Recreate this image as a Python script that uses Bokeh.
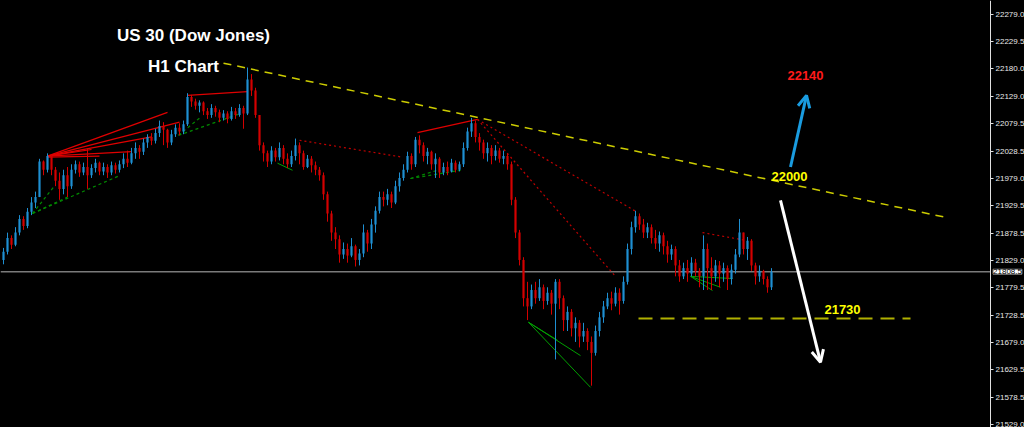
from bokeh.plotting import figure
from bokeh.models import (Range1d, LinearAxis, FixedTicker, PrintfTickFormatter,
                          Label, Arrow, OpenHead, ColumnDataSource)
from bokeh.embed import file_html
from bokeh.resources import INLINE

# ---------------- data (H1 candles, US30) ----------------
first_open = 21830
closes = [
    21845, 21870, 21858, 21880, 21905, 21892, 21918, 21935, 21945, 22010,
    21995, 22020, 21995, 21975, 21960, 21985, 21965, 21995, 22005, 21990,
    22000, 21985, 21998, 22008, 21992, 22000, 21990, 22003, 21995, 22005,
    22015, 22008, 22025, 22035, 22028, 22045, 22055, 22048, 22062, 22075,
    22068, 22045, 22060, 22072, 22065, 22078, 22128, 22120, 22112, 22118,
    22102, 22095, 22108, 22100, 22090, 22098, 22088, 22102, 22095, 22108,
    22098, 22160, 22140, 22095, 22040, 22025, 22010, 22030, 22018, 22035,
    22015, 22005, 22020, 22040, 22025, 22000, 22015, 22003, 21995, 21985,
    21950, 21915, 21880, 21868, 21840, 21850, 21838, 21855, 21830, 21842,
    21880, 21860, 21895, 21920, 21945, 21940, 21950, 21935, 21965, 21980,
    21995, 22020, 22005, 22050, 22040, 22020, 22028, 22005, 22015, 21990,
    22000, 21992, 22008, 21995, 22005, 22035, 22065, 22080, 22055, 22045,
    22025, 22035, 22020, 22030, 22015, 22020, 22005, 21940, 21880, 21830,
    21760, 21745, 21775, 21760, 21780, 21755, 21770, 21750, 21790, 21760,
    21720, 21735, 21705, 21715, 21690, 21700, 21680, 21660, 21700, 21725,
    21745, 21760, 21750, 21770, 21755, 21790, 21850, 21890, 21910, 21895,
    21880, 21890, 21870, 21860, 21875, 21855, 21840, 21850, 21820, 21800,
    21815, 21805, 21825, 21810, 21800, 21850, 21815, 21800, 21820, 21805,
    21815, 21795, 21812, 21840, 21880, 21850, 21865, 21820, 21800, 21810,
    21795, 21780, 21808.5,
]
highs = [
    21852, 21880, 21875, 21890, 21912, 21910, 21925, 21945, 21955, 22015,
    22012, 22025, 22022, 22000, 21990, 21995, 22000, 22005, 22012, 22010,
    22008, 22034, 22005, 22015, 22010, 22008, 22005, 22010, 22008, 22012,
    22025, 22030, 22035, 22045, 22040, 22052, 22060, 22062, 22070, 22085,
    22082, 22070, 22068, 22078, 22080, 22085, 22135, 22132, 22125, 22122,
    22120, 22108, 22115, 22112, 22105, 22104, 22102, 22110, 22108, 22115,
    22112, 22182, 22170, 22145, 22095, 22045, 22030, 22038, 22035, 22045,
    22040, 22025, 22030, 22052, 22045, 22030, 22022, 22020, 22010, 22000,
    21990, 21955, 21920, 21890, 21875, 21862, 21860, 21870, 21858, 21850,
    21895, 21885, 21905, 21928, 21955, 21955, 21960, 21955, 21975, 21990,
    22005, 22028, 22025, 22055, 22058, 22045, 22035, 22030, 22025, 22018,
    22008, 22010, 22015, 22012, 22010, 22045, 22072, 22090, 22085, 22062,
    22050, 22045, 22040, 22040, 22035, 22030, 22025, 22010, 21945, 21885,
    21835, 21790, 21785, 21790, 21795, 21785, 21780, 21775, 21795, 21795,
    21765, 21745, 21740, 21725, 21720, 21715, 21705, 21690, 21710, 21735,
    21755, 21770, 21772, 21780, 21778, 21800, 21860, 21900, 21920, 21915,
    21905, 21898, 21895, 21885, 21882, 21880, 21865, 21858, 21855, 21830,
    21825, 21830, 21835, 21832, 21815, 21875, 21860, 21835, 21830, 21828,
    21825, 21820, 21822, 21850, 21905, 21880, 21872, 21868, 21825, 21820,
    21812, 21800, 21815,
]
lows = [
    21822, 21840, 21850, 21855, 21875, 21885, 21888, 21912, 21925, 21945,
    21985, 21990, 21985, 21965, 21940, 21950, 21945, 21960, 21988, 21982,
    21985, 21960, 21980, 21990, 21985, 21985, 21980, 21985, 21988, 21990,
    21998, 22000, 22005, 22015, 22015, 22022, 22035, 22040, 22043, 22055,
    22040, 22035, 22040, 22055, 22058, 22060, 22075, 22110, 22105, 22100,
    22095, 22088, 22090, 22092, 22082, 22085, 22080, 22085, 22088, 22092,
    22070, 22095, 22130, 22090, 22030, 22010, 22000, 22005, 22010, 22012,
    22005, 21998, 22000, 22012, 22005, 21995, 21998, 21990, 21985, 21975,
    21940, 21900, 21865, 21850, 21825, 21832, 21825, 21835, 21818, 21820,
    21835, 21845, 21850, 21880, 21915, 21928, 21930, 21925, 21932, 21955,
    21975, 21990, 21995, 22000, 22025, 22010, 22005, 21995, 21980, 21980,
    21985, 21985, 21990, 21990, 21992, 22000, 22030, 22055, 22045, 22030,
    22015, 22010, 22005, 22012, 22008, 22005, 21995, 21930, 21870, 21820,
    21745, 21720, 21740, 21750, 21755, 21740, 21748, 21730, 21648, 21740,
    21700, 21700, 21690, 21680, 21670, 21680, 21665, 21600, 21655, 21690,
    21715, 21740, 21738, 21745, 21730, 21750, 21785, 21840, 21880, 21885,
    21870, 21870, 21860, 21850, 21845, 21840, 21825, 21830, 21800, 21790,
    21795, 21790, 21800, 21800, 21780, 21775, 21775, 21775, 21790, 21780,
    21790, 21775, 21785, 21805, 21835, 21840, 21830, 21810, 21785, 21790,
    21785, 21770, 21775,
]
current_price = 21808.5
price_ticks = [22279.0, 22229.5, 22180.0, 22129.0, 22079.5, 22028.5, 21979.0,
               21929.5, 21878.5, 21829.0, 21779.5, 21728.5, 21679.0, 21629.5,
               21578.5, 21529.0]

# chart area: bar index range shown, and where the price scale sits
x_start, x_end = -0.75, 255.25
price_scale_at = 246.75
price_box_at = 251.0

# drawn objects (bar index, price)
trendline = [(55.0, 22190), (235.5, 21908)]
support_level = [(158.75, 21723), (226.75, 21723)]
red_solid = [
    (11, 22020, 41, 22100), (11, 22020, 44, 22082), (11, 22020, 37, 22055),
    (11, 22020, 32, 22028), (11, 22020, 22, 22032), (11, 22018, 24, 22020),
    (46, 22131, 61, 22138), (103.5, 22063, 118.5, 22087),
]
red_dotted = [
    (74, 22049, 99.75, 22018), (118.5, 22087, 158.5, 21917),
    (118.5, 22087, 153, 21800), (174.75, 21880, 185.5, 21866),
]
green_dashed = [
    (7.25, 21915, 29.25, 21985), (7.25, 21915, 16, 21945), (7.25, 21915, 12.5, 21963),
    (43.75, 22058, 59.25, 22098), (43.75, 22058, 49.25, 22091),
    (101.75, 21979, 114.25, 21994), (101.75, 21979, 108.5, 21994),
]
green_solid = [
    (68.5, 22007, 72.25, 21994), (131.25, 21716, 144.25, 21655),
    (131.25, 21716, 146.75, 21597), (131.25, 21716, 138.5, 21683),
    (171.75, 21800, 182.25, 21796), (171.75, 21800, 179.25, 21780),
    (171.75, 21800, 177.25, 21774),
]
up_arrow = (196.75, 22000, 200.75, 22131)
down_arrow = (194.25, 21939, 204.25, 21643)
title_lines = [("US 30 (Dow Jones)", 47.5, 22241), ("H1 Chart", 45.0, 22184)]
level_labels = [("22140", 200.5, 22168, "#ff1a1a"), ("22000", 196.5, 21983, "#ffff00"),
                ("21730", 209.75, 21740, "#ffff00")]

# ---------------- figure ----------------
UP = "#1e8fd2"
DOWN = "#d40000"

n = len(closes)
idx = list(range(n))
opens = [first_open] + closes[:-1]
hi = [max(h, o, c) for h, o, c in zip(highs, opens, closes)]
lo = [min(l, o, c) for l, o, c in zip(lows, opens, closes)]
colors = [UP if c >= o else DOWN for o, c in zip(opens, closes)]
top = [max(o, c) for o, c in zip(opens, closes)]
bot = [min(o, c) for o, c in zip(opens, closes)]
bot = [b if t - b > 1.5 else t - 1.5 for t, b in zip(top, bot)]

src = ColumnDataSource(dict(x=idx, hi=hi, lo=lo, top=top, bot=bot, color=colors))

p = figure(width=1024, height=427, output_backend="svg", toolbar_location=None,
           x_range=Range1d(x_start, x_end), y_range=Range1d(21523.5, 22304.6),
           background_fill_color="black", border_fill_color="black",
           min_border_left=0, min_border_top=0, min_border_bottom=0, min_border_right=0,
           outline_line_color=None, y_axis_location=None, x_axis_location=None)
p.grid.visible = False

ax = LinearAxis(ticker=FixedTicker(ticks=price_ticks),
                formatter=PrintfTickFormatter(format="%.1f"),
                fixed_location=price_scale_at)
ax.axis_line_color = "#e0e0e0"
ax.major_tick_line_color = "#e0e0e0"
ax.major_tick_out = 3
ax.major_tick_in = 0
ax.minor_tick_line_color = None
ax.major_label_text_color = "#e8e8e8"
ax.major_label_text_font = "Liberation Sans"
ax.major_label_text_font_size = "8px"
ax.major_label_standoff = 2
p.add_layout(ax, "right")

# current price line
p.line([x_start, price_scale_at], [current_price, current_price], line_color="#7a7a7a", line_width=1.5)

# drawn lines
p.line([t[0] for t in trendline], [t[1] for t in trendline], line_color="#cccc00",
       line_width=1.5, line_dash="8 6")
p.line([t[0] for t in support_level], [t[1] for t in support_level], line_color="#b0b000",
       line_width=2, line_dash="14 8")


def segs(items, **kw):
    p.segment(x0=[s[0] for s in items], y0=[s[1] for s in items],
              x1=[s[2] for s in items], y1=[s[3] for s in items], **kw)


segs(red_solid, line_color="#e00000", line_width=1.2)
segs(red_dotted, line_color="#c00000", line_width=1.2, line_dash="2 3")
segs(green_dashed, line_color="#008a00", line_width=1.2, line_dash="3 3")
segs(green_solid, line_color="#00a000", line_width=1)

# candles
p.segment(x0="x", y0="hi", x1="x", y1="lo", line_color="color", line_width=1, source=src)
p.vbar(x="x", width=0.55, top="top", bottom="bot", fill_color="color", line_color=None, source=src)

# arrows
p.add_layout(Arrow(end=OpenHead(size=12, line_color="#1a9ce0", line_width=3),
                   x_start=up_arrow[0], y_start=up_arrow[1], x_end=up_arrow[2], y_end=up_arrow[3],
                   line_color="#1a9ce0", line_width=3))
p.add_layout(Arrow(end=OpenHead(size=12, line_color="white", line_width=3),
                   x_start=down_arrow[0], y_start=down_arrow[1], x_end=down_arrow[2], y_end=down_arrow[3],
                   line_color="white", line_width=3))

for txt, x, y in title_lines:
    p.add_layout(Label(x=x, y=y, text=txt, text_color="white", text_font="Liberation Sans",
                       text_font_size="17px", text_font_style="bold",
                       text_align="center", text_baseline="middle"))
for txt, x, y, c in level_labels:
    p.add_layout(Label(x=x, y=y, text=txt, text_color=c, text_font="Liberation Sans",
                       text_font_size="13px", text_font_style="bold",
                       text_align="center", text_baseline="middle"))

p.add_layout(Label(x=price_box_at, y=current_price, text="21808.5", text_color="black",
                   text_font="Liberation Sans", text_font_size="8px", level="overlay",
                   background_fill_color="white", border_line_color="#808080",
                   text_align="center", text_baseline="middle"))

html = file_html(p, INLINE)
html = html.replace("<head>", "<head><style>html,body{margin:0;padding:0;background:#000;}</style>", 1)
open("out.html", "w").write(html)
